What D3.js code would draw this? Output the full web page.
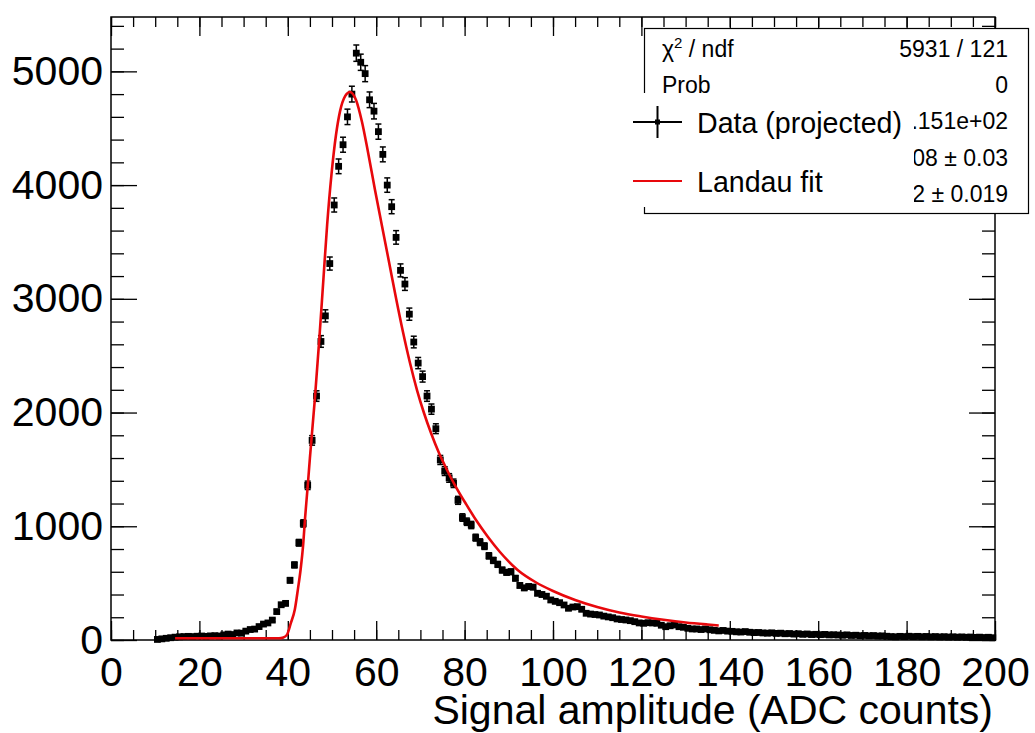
<!DOCTYPE html>
<html>
<head>
<meta charset="utf-8">
<script src="https://cdn.jsdelivr.net/npm/d3@7"></script>
<style>
body { margin: 0; background: #fff; }
svg text { font-family: "Liberation Sans", Arial, Helvetica, sans-serif; fill: #000; }
</style>
</head>
<body>
<div id="chart"></div>
<script>
// histogram: one count per 1-ADC bin, first bin starts at 10
var firstBin = 10;
var counts = [
  5, 10, 15, 20, 25, 28, 30, 32, 30, 33,
  35, 32, 36, 38, 35, 45, 52, 48, 62, 60,
  78, 92, 96, 118, 140, 150, 175, 250, 310, 322,
  525, 660, 855, 1025, 1360, 1755, 2145, 2625, 2850, 3310,
  3825, 4165, 4355, 4600, 4800, 5160, 5080, 4980, 4750, 4650,
  4470, 4270, 4000, 3810, 3540, 3250, 3130, 2865, 2620, 2435,
  2316, 2145, 2030, 1858, 1583, 1485, 1425, 1378, 1228, 1077,
  1040, 1011, 900, 860, 825, 740, 700, 665, 615, 595,
  600, 543, 480, 458, 470, 465, 411, 400, 385, 352,
  340, 328, 308, 279, 290, 293, 270, 235, 228, 224,
  220, 210, 203, 196, 185, 180, 176, 170, 161, 150,
  147, 152, 150, 147, 130, 117, 125, 132, 117, 112,
  103, 97, 97, 92, 97, 90, 85, 80, 84, 78,
  76, 72, 70, 74, 68, 65, 66, 62, 60, 63,
  58, 60, 55, 57, 52, 55, 50, 53, 48, 50,
  47, 49, 45, 46, 44, 42, 45, 40, 42, 38,
  40, 37, 39, 35, 36, 33, 30, 28, 32, 30,
  33, 30, 32, 29, 31, 28, 30, 27, 29, 26,
  28, 25, 27, 24, 26, 23, 25, 22, 24, 20
];

// Landau fit curve
var fitX = [14.5, 20, 30, 38, 39, 39.8, 40.7, 41.6, 42.3, 42.9, 43.5, 43.9, 44.5, 45.0,
  46.1, 47.1, 48.0, 48.9, 49.9, 50.9, 51.8, 53.0, 54.07, 55.43, 56.79, 58.14, 59.73, 61.31,
  62.9, 64.48, 66.06, 67.65, 69.23, 70.81, 72.4, 74.21, 76.02, 78.05, 80.32, 82.58, 85.29, 88,
  92, 96, 100, 105, 110, 115, 120, 125, 130, 135, 137.5];
var fitY = [15, 15, 15, 15, 22, 45, 150, 270, 450, 620, 850, 1070, 1350, 1600,
  2110, 2630, 3140, 3650, 4100, 4440, 4646, 4784, 4819, 4749, 4555, 4291, 3957, 3641,
  3324, 3007, 2708, 2436, 2198, 1996, 1820, 1644, 1495, 1345, 1196, 1055, 906, 774,
  616, 510, 431, 352, 290, 242, 207, 178, 154, 136, 128];

var xMajor = [0, 20, 40, 60, 80, 100, 120, 140, 160, 180, 200];
var yMajor = [0, 1000, 2000, 3000, 4000, 5000];

var statLabels = ['χ2 / ndf', 'Prob', 'Constant', 'MPV', 'Sigma'];
var statValues = ['5931 / 121', '0', '2.668e+04 ± 1.151e+02', '54.08 ± 0.03', '4.572 ± 0.019'];

var legendLabels = ['Data (projected)', 'Landau fit'];

var width = 1035, height = 733;
var svg = d3.select('#chart').append('svg')
  .attr('width', width)
  .attr('height', height);

var x = d3.scaleLinear().domain([0, 200]).range([111, 995]);
var y = d3.scaleLinear().domain([0, 5478]).range([640, 17]);

var xMinor = d3.range(0, 201, 5);
var yMinor = d3.range(0, 5478, 200);

// ticks on all four sides, pointing inwards
function tickAxis(axis, scale, vals, size, pos) {
  var g = svg.append('g').attr('transform', pos)
    .call(axis(scale).tickValues(vals).tickSize(size).tickSizeOuter(0).tickFormat(''));
  g.select('.domain').remove();
  g.selectAll('line').attr('stroke', '#000').attr('stroke-width', 1.3);
  return g;
}
tickAxis(d3.axisBottom, x, xMinor, -10, 'translate(0,640)');
tickAxis(d3.axisTop, x, xMinor, -10, 'translate(0,17)');
tickAxis(d3.axisLeft, y, yMinor, -13, 'translate(111,0)');
tickAxis(d3.axisRight, y, yMinor, -13, 'translate(995,0)');

var xAxis = svg.append('g').attr('transform', 'translate(0,640)')
  .call(d3.axisBottom(x).tickValues(xMajor).tickSize(-19).tickSizeOuter(0).tickPadding(17));
var yAxis = svg.append('g').attr('transform', 'translate(111,0)')
  .call(d3.axisLeft(y).tickValues(yMajor).tickSize(-26).tickSizeOuter(0).tickPadding(8)
    .tickFormat(d3.format('d')));
tickAxis(d3.axisTop, x, xMajor, -19, 'translate(0,17)');
tickAxis(d3.axisRight, y, yMajor, -26, 'translate(995,0)');

[xAxis, yAxis].forEach(function(g) {
  g.select('.domain').remove();
  g.selectAll('line').attr('stroke', '#000').attr('stroke-width', 1.3);
  g.selectAll('text').attr('font-size', 41)
    .attr('font-family', '"Liberation Sans", Arial, Helvetica, sans-serif')
    .attr('fill', '#000');
});

svg.append('rect')
  .attr('x', x(0)).attr('y', y(5478))
  .attr('width', x(200) - x(0)).attr('height', y(0) - y(5478))
  .attr('fill', 'none').attr('stroke', '#000').attr('stroke-width', 1.5);

svg.append('text')
  .attr('x', 993).attr('y', 724)
  .attr('text-anchor', 'end')
  .attr('font-size', 41)
  .text('Signal amplitude (ADC counts)');

// data points with error bars
var bins = counts.map(function(c, i) {
  return { x: firstBin + i + 0.5, c: c, e: Math.sqrt(c) };
});
var pts = svg.append('g').attr('class', 'data');
var capW = 3;
bins.forEach(function(d) {
  var cx = x(d.x);
  var y1 = y(d.c + d.e), y0 = y(Math.max(d.c - d.e, 0));
  pts.append('line').attr('x1', cx).attr('x2', cx).attr('y1', y1).attr('y2', y0)
    .attr('stroke', '#000').attr('stroke-width', 1.5);
  pts.append('line').attr('x1', cx - capW).attr('x2', cx + capW).attr('y1', y1).attr('y2', y1)
    .attr('stroke', '#000').attr('stroke-width', 1.5);
  pts.append('line').attr('x1', cx - capW).attr('x2', cx + capW).attr('y1', y0).attr('y2', y0)
    .attr('stroke', '#000').attr('stroke-width', 1.5);
  pts.append('rect').attr('x', cx - 3.4).attr('y', y(d.c) - 3.4)
    .attr('width', 6.8).attr('height', 6.8).attr('fill', '#000');
});

var fitLine = d3.line()
  .x(function(d, i) { return x(fitX[i]); })
  .y(function(d) { return y(d); })
  .curve(d3.curveMonotoneX);
svg.append('path')
  .attr('d', fitLine(fitY))
  .attr('fill', 'none')
  .attr('stroke', '#e8080c')
  .attr('stroke-width', 2.6);

// stats box
var stats = svg.append('g');
stats.append('rect')
  .attr('x', 644.5).attr('y', 28.5).attr('width', 384).attr('height', 185)
  .attr('fill', '#fff').attr('stroke', '#000').attr('stroke-width', 1.2);
var rowY = [57, 93, 129, 166, 202];
statLabels.forEach(function(lab, i) {
  var t = stats.append('text').attr('x', 662).attr('y', rowY[i]).attr('font-size', 23);
  if (lab.charAt(0) === 'χ') {
    t.append('tspan').text('χ');
    t.append('tspan').attr('dy', -9).attr('font-size', 15).text('2');
    t.append('tspan').attr('dy', 9).text(' / ndf');
  } else {
    t.text(lab);
  }
  stats.append('text').attr('x', 1008).attr('y', rowY[i]).attr('font-size', 23)
    .attr('text-anchor', 'end').text(statValues[i]);
});

// legend, drawn over the stats box
var leg = svg.append('g');
leg.append('rect').attr('x', 628).attr('y', 93).attr('width', 286).attr('height', 114)
  .attr('fill', '#fff');
var legY = [122, 181];
leg.append('line').attr('x1', 633).attr('x2', 682).attr('y1', legY[0]).attr('y2', legY[0])
  .attr('stroke', '#000').attr('stroke-width', 2);
leg.append('line').attr('x1', 657.5).attr('x2', 657.5).attr('y1', legY[0] - 16).attr('y2', legY[0] + 16)
  .attr('stroke', '#000').attr('stroke-width', 2);
leg.append('rect').attr('x', 655).attr('y', legY[0] - 2.5).attr('width', 5).attr('height', 5)
  .attr('fill', '#000');
leg.append('line').attr('x1', 633).attr('x2', 682).attr('y1', legY[1]).attr('y2', legY[1])
  .attr('stroke', '#e8080c').attr('stroke-width', 2);
legendLabels.forEach(function(lab, i) {
  leg.append('text').attr('x', 697).attr('y', legY[i] + 11).attr('font-size', 28.6).text(lab);
});
</script>
</body>
</html>
